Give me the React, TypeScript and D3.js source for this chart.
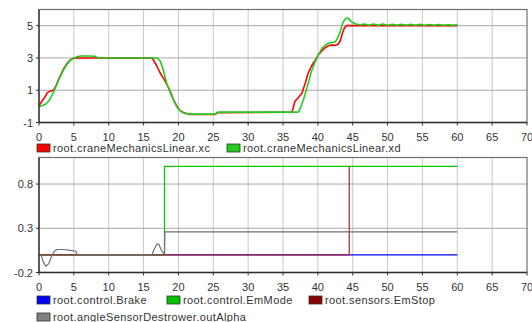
import React from "react";
import * as d3 from "d3";

// ---- Top chart data ----
const xcT = [0, 0.4, 0.8, 1.2, 1.7, 2.1, 2.5, 3.0, 3.5, 4.0, 4.5, 5.0, 5.5, 6.0, 16.2, 16.5, 16.9, 17.4, 17.9, 18.3, 18.8, 19.3, 19.8, 20.2, 20.7, 21.2, 21.7, 22.5, 25.3, 25.5, 36.3, 36.7, 37.2, 37.7, 38.2, 38.6, 39.1, 39.6, 40.1, 40.6, 41.1, 41.5, 42.0, 42.5, 42.9, 43.2, 43.5, 43.8, 44.1, 44.5, 60];
const xcV = [0.05, 0.3, 0.55, 0.85, 0.95, 1.0, 1.35, 1.85, 2.3, 2.65, 2.88, 2.98, 3.0, 3.0, 3.0, 2.8, 2.5, 2.05, 1.7, 1.4, 0.95, 0.4, 0.0, -0.25, -0.38, -0.45, -0.5, -0.5, -0.5, -0.4, -0.36, 0.3, 0.55, 0.8, 1.45, 2.05, 2.5, 2.85, 3.2, 3.45, 3.65, 3.75, 3.8, 3.78, 3.85, 4.05, 4.5, 4.85, 5.0, 5.0, 5.0];
const xdT = [0, 0.5, 1.0, 1.5, 2.0, 2.5, 3.0, 3.5, 4.0, 4.5, 5.0, 5.5, 6.0, 7.0, 8.0, 8.5, 17.0, 17.4, 17.8, 18.3, 18.8, 19.3, 19.8, 20.2, 20.7, 21.3, 22.0, 25.4, 25.6, 37.2, 37.6, 38.0, 38.6, 39.1, 39.6, 40.1, 40.6, 41.1, 41.5, 42.0, 42.5, 42.8, 43.2, 43.6, 44.0, 44.4, 44.8, 45.3, 46.0, 46.7, 47.3, 48.0, 48.7, 49.3, 50.0, 50.7, 51.3, 52.0, 52.7, 53.3, 54.0, 54.7, 55.3, 56.0, 56.7, 57.3, 58.0, 58.7, 59.3, 60.0];
const xdV = [0, 0.05, 0.15, 0.4, 0.8, 1.3, 1.8, 2.25, 2.6, 2.85, 3.0, 3.08, 3.12, 3.12, 3.1, 3.0, 3.0, 2.8, 2.3, 1.45, 0.9, 0.38, -0.05, -0.25, -0.4, -0.47, -0.48, -0.48, -0.36, -0.36, 0.0, 0.5, 1.4, 2.2, 2.75, 3.2, 3.6, 3.8, 3.9, 3.95, 4.0, 4.2, 4.6, 5.2, 5.45, 5.45, 5.25, 5.12, 5.05, 5.1, 5.02, 5.1, 5.02, 5.1, 5.02, 5.08, 5.02, 5.08, 5.02, 5.08, 5.02, 5.08, 5.02, 5.07, 5.02, 5.07, 5.02, 5.06, 5.02, 5.05];

// ---- Bottom chart data ----
const brakeT = [0, 60];
const brakeV = [0, 0];
const emModeT = [0, 18.0, 18.0, 60];
const emModeV = [0, 0, 1, 1];
const emStopT = [0, 44.5, 44.5];
const emStopV = [0, 0, 1];
const alphaT = [0, 0.3, 0.6, 1.0, 1.4, 1.8, 2.2, 2.6, 3.5, 4.5, 5.3, 5.5, 16.2, 16.5, 16.9, 17.2, 17.5, 17.8, 18.0, 18.05, 60];
const alphaV = [0, 0, -0.08, -0.13, -0.1, -0.02, 0.04, 0.06, 0.06, 0.05, 0.04, 0, 0, 0.06, 0.12, 0.12, 0.06, 0.02, 0.02, 0.26, 0.26];

const xTicks = [0, 5, 10, 15, 20, 25, 30, 35, 40, 45, 50, 55, 60, 65, 70];
const topYTicks = [-1, 1, 3, 5];
const botYTicks = [-0.2, 0.3, 0.8];

const topSeries = [
  { name: "root.craneMechanicsLinear.xc", color: "#ff0000", t: xcT, v: xcV },
  { name: "root.craneMechanicsLinear.xd", color: "#22cc22", t: xdT, v: xdV },
];
const botSeries = [
  { name: "root.control.Brake", color: "#0000ff", t: brakeT, v: brakeV },
  { name: "root.control.EmMode", color: "#00c800", t: emModeT, v: emModeV },
  { name: "root.sensors.EmStop", color: "#a82a2a", t: emStopT, v: emStopV },
  { name: "root.angleSensorDestrower.outAlpha", color: "#707070", t: alphaT, v: alphaV },
];

const W = 532, H = 322;
const L = 39, R = 527;
const FONT = "'Liberation Sans', Arial, sans-serif";

function Panel({ yDomain, top, bottom, yTicks, series, fmt, lw }: any) {
  const x = d3.scaleLinear().domain([0, 70]).range([L, R]);
  const y = d3.scaleLinear().domain(yDomain).range([bottom, top]);
  const line = d3.line<[number, number]>().x(d => x(d[0])).y(d => y(d[1]));
  return (
    <g>
      {xTicks.filter(t => t > 0 && t < 70).map(t => (
        <line key={"vg" + t} x1={x(t)} x2={x(t)} y1={top} y2={bottom} stroke="#c8c8c8" strokeWidth={1} />
      ))}
      {yTicks.filter((t: number) => t > yDomain[0]).map((t: number) => (
        <line key={"hg" + t} x1={L} x2={R} y1={y(t)} y2={y(t)} stroke="#a8a8a8" strokeWidth={1} />
      ))}
      <rect x={L} y={top} width={R - L} height={bottom - top} fill="none" stroke="#707070" strokeWidth={1.2} />
      {series.map((s: any) => (
        <path key={s.name} d={line(s.t.map((t: number, i: number) => [t, s.v[i]] as [number, number])) || ""}
          fill="none" stroke={s.color} strokeWidth={lw} strokeLinejoin="round" />
      ))}
      <line x1={L} x2={R} y1={bottom} y2={bottom} stroke="#303030" strokeWidth={1.3} />
      <line x1={L} x2={L} y1={top} y2={bottom} stroke="#303030" strokeWidth={1.3} />
      {xTicks.map(t => (
        <g key={"xt" + t}>
          <line x1={x(t)} x2={x(t)} y1={bottom} y2={bottom + 3} stroke="#303030" />
          <text x={x(t)} y={bottom + 18} textAnchor="middle" fontSize={11} fontFamily={FONT} fill="#333">{t}</text>
        </g>
      ))}
      {yTicks.map((t: number) => (
        <g key={"yt" + t}>
          <line x1={L - 3} x2={L} y1={y(t)} y2={y(t)} stroke="#303030" />
          <text x={L - 6} y={y(t) + 4} textAnchor="end" fontSize={11} fontFamily={FONT} fill="#333">{fmt(t)}</text>
        </g>
      ))}
    </g>
  );
}

function LegendItem({ x, y, color, name }: any) {
  return (
    <g>
      <rect x={x} y={y} width={13} height={8} fill={color} stroke="#333" strokeWidth={0.8} />
      <text x={x + 16} y={y + 8} fontSize={11} letterSpacing={0.4} fontFamily={FONT} fill="#333">{name}</text>
    </g>
  );
}

export default function App() {
  return (
    <svg width={W} height={H} style={{ position: "absolute", left: 0, top: 0, background: "#fff" }}>
      <rect x={0} y={0} width={W} height={H} fill="#fff" />
      <Panel yDomain={[-1, 6]} top={9.5} bottom={122.5} yTicks={topYTicks} series={topSeries} fmt={(t: number) => String(t)} lw={1.6} />
      <LegendItem x={37} y={144} color={topSeries[0].color} name={topSeries[0].name} />
      <LegendItem x={227} y={144} color={topSeries[1].color} name={topSeries[1].name} />
      <Panel yDomain={[-0.2, 1.1]} top={157.5} bottom={272.5} yTicks={botYTicks} series={botSeries} fmt={(t: number) => String(t)} lw={1.2} />
      <LegendItem x={37} y={296} color="#0000ff" name={botSeries[0].name} />
      <LegendItem x={167} y={296} color="#00c000" name={botSeries[1].name} />
      <LegendItem x={309} y={296} color="#8a0000" name={botSeries[2].name} />
      <LegendItem x={37} y={313} color="#808080" name={botSeries[3].name} />
    </svg>
  );
}
